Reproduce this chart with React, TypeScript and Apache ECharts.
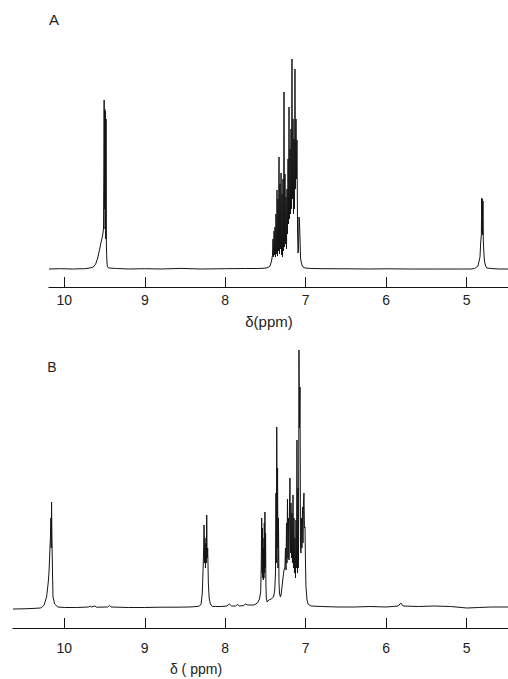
import React, { useEffect, useRef } from "react";
import * as echarts from "echarts";

// Tick positions (ppm) shared by both panels
const tickValues = [10, 9, 8, 7, 6, 5];
const panelLabels = ["A", "B"];
const axisTitles = ["δ(ppm)", "δ ( ppm)"];

// Spectrum A: [ppm, intensity] (descending ppm)
const spectrumA: number[][] = [
  [10.19, 0], [10.05, 0.3], [9.9, 0], [9.75, 0.3], [9.68, 1], [9.64, 2], [9.61, 5],
  [9.585, 11], [9.56, 20], [9.54, 28], [9.525, 33], [9.513, 40], [9.508, 100],
  [9.505, 169], [9.501, 60], [9.497, 160], [9.493, 40], [9.489, 158], [9.485, 30],
  [9.481, 150], [9.477, 25], [9.472, 10], [9.466, 3], [9.45, 1], [9.35, 0.5],
  [9.2, 0], [9.0, 0.3], [8.8, 0], [8.55, 0.6], [8.3, 0], [8.0, 0.3], [7.75, 0.5],
  [7.6, 0.5], [7.506, 0.8], [7.469, 1.5], [7.444, 3], [7.425, 8], [7.413, 14],
  [7.407, 30], [7.401, 12], [7.394, 38], [7.388, 14], [7.382, 42], [7.376, 12],
  [7.37, 55], [7.363, 15], [7.357, 79], [7.351, 13], [7.345, 70], [7.339, 18],
  [7.332, 112], [7.326, 15], [7.32, 85], [7.314, 20], [7.307, 96], [7.301, 14],
  [7.295, 75], [7.289, 12], [7.283, 90], [7.276, 18], [7.27, 177], [7.264, 22],
  [7.258, 95], [7.252, 25], [7.245, 72], [7.239, 20], [7.233, 80], [7.227, 35],
  [7.22, 110], [7.214, 45], [7.208, 162], [7.202, 50], [7.196, 120], [7.189, 55],
  [7.183, 140], [7.177, 60], [7.171, 210], [7.165, 70], [7.158, 150], [7.152, 55],
  [7.146, 130], [7.14, 60], [7.134, 200], [7.127, 80], [7.121, 150], [7.115, 90],
  [7.109, 129], [7.102, 40], [7.096, 16], [7.09, 20], [7.084, 52], [7.078, 48],
  [7.071, 30], [7.065, 12], [7.059, 8], [7.047, 4], [7.034, 2], [7.009, 1],
  [6.95, 0.6], [6.8, 0.3], [6.5, 0.2], [6.2, 0], [6.0, 0.2], [5.7, 0], [5.4, 0],
  [5.1, 0], [4.95, 0], [4.9, 0.5], [4.86, 3], [4.835, 12], [4.825, 28], [4.818, 34],
  [4.814, 71], [4.81, 36], [4.806, 70], [4.802, 34], [4.798, 68], [4.794, 30],
  [4.788, 18], [4.78, 8], [4.765, 3], [4.75, 1], [4.7, 0.5], [4.6, 0], [4.487, 0],
];

// Spectrum B: [ppm, intensity] (descending ppm)
const spectrumB: number[][] = [
  [10.637, -1], [10.5, -0.8], [10.4, -0.5], [10.3, 0], [10.28, 0.5], [10.25, 3],
  [10.22, 11], [10.2, 25], [10.19, 35], [10.18, 55], [10.172, 71], [10.166, 90],
  [10.162, 60], [10.158, 106], [10.154, 75], [10.15, 55], [10.145, 30], [10.14, 11],
  [10.12, 4], [10.08, 1], [10.0, 0.5], [9.85, 0.5], [9.7, 1], [9.68, 2], [9.66, 1],
  [9.62, 2], [9.6, 0.8], [9.46, 1], [9.44, 2.5], [9.42, 1], [9.2, 0.5], [9.0, 0.5],
  [8.8, 0.8], [8.6, 0.8], [8.45, 1], [8.35, 1.5], [8.32, 2], [8.3, 4], [8.285, 15],
  [8.275, 40], [8.268, 60], [8.263, 83], [8.258, 45], [8.252, 70], [8.246, 40],
  [8.24, 65], [8.235, 45], [8.23, 93], [8.225, 50], [8.218, 60], [8.21, 25],
  [8.2, 10], [8.185, 4], [8.16, 1.5], [8.12, 1.5], [8.05, 1.5], [7.98, 2], [7.95, 4],
  [7.92, 2], [7.87, 2], [7.85, 3.5], [7.82, 2], [7.77, 2.5], [7.75, 4], [7.72, 3],
  [7.68, 3], [7.643, 3], [7.6, 5], [7.575, 9], [7.56, 16], [7.553, 40], [7.547, 90],
  [7.543, 35], [7.539, 80], [7.535, 30], [7.531, 70], [7.527, 28], [7.523, 60],
  [7.519, 30], [7.515, 85], [7.511, 35], [7.507, 96], [7.503, 40], [7.499, 75],
  [7.495, 25], [7.49, 10], [7.48, 6], [7.46, 8], [7.43, 9], [7.4, 11], [7.385, 18],
  [7.376, 35], [7.37, 115], [7.365, 45], [7.36, 181], [7.355, 60], [7.35, 140],
  [7.345, 40], [7.339, 90], [7.332, 25], [7.326, 15], [7.315, 11], [7.305, 14],
  [7.295, 21], [7.283, 30], [7.27, 38], [7.258, 41], [7.252, 60], [7.245, 38],
  [7.239, 85], [7.233, 45], [7.227, 109], [7.22, 50], [7.214, 90], [7.208, 48],
  [7.202, 100], [7.196, 130], [7.189, 55], [7.183, 105], [7.177, 50], [7.171, 95],
  [7.165, 45], [7.158, 113], [7.152, 40], [7.146, 90], [7.14, 35], [7.134, 70],
  [7.127, 30], [7.121, 88], [7.115, 40], [7.109, 168], [7.102, 35], [7.096, 120],
  [7.09, 40], [7.084, 258], [7.078, 180], [7.071, 221], [7.065, 60], [7.059, 55],
  [7.053, 90], [7.047, 60], [7.04, 101], [7.034, 65], [7.028, 105], [7.022, 115],
  [7.016, 80], [7.009, 81], [7.003, 45], [6.997, 21], [6.984, 8], [6.972, 4],
  [6.935, 2], [6.8, 1.5], [6.6, 1], [6.4, 1], [6.2, 1.5], [6.0, 1], [5.85, 2],
  [5.82, 5], [5.79, 2], [5.6, 1.5], [5.4, 2], [5.2, 1.5], [5.0, 0], [4.85, 0.5],
  [4.7, 1], [4.487, 1],
];

const FONT = "'Liberation Sans', 'DejaVu Sans', sans-serif";
const INK = "#151515";

function makeXAxis(gridIndex: number, min: number, max: number, margin: number) {
  return {
    gridIndex,
    type: "value",
    inverse: true,
    min,
    max,
    axisLine: { show: true, onZero: false, lineStyle: { color: INK, width: 1.2 } },
    axisTick: {
      show: true,
      inside: true,
      length: 10,
      customValues: tickValues,
      lineStyle: { color: INK, width: 1 },
    },
    axisLabel: {
      show: true,
      customValues: tickValues,
      margin,
      fontSize: 14,
      color: "#222",
      fontFamily: FONT,
    },
    splitLine: { show: false },
  };
}

export default function App() {
  const ref = useRef<HTMLDivElement>(null);
  useEffect(() => {
    if (!ref.current) return;
    const chart = echarts.init(ref.current, null, { renderer: "svg" });
    chart.setOption({
      animation: false,
      backgroundColor: "#ffffff",
      grid: [
        { left: 49, right: 0, top: 40, height: 247, containLabel: false, outerBoundsMode: "none" },
        { left: 13, right: 0, top: 340, height: 288, containLabel: false, outerBoundsMode: "none" },
      ],
      xAxis: [makeXAxis(0, 4.487, 10.19, 6), makeXAxis(1, 4.487, 10.637, 13)],
      yAxis: [
        { gridIndex: 0, type: "value", min: -18, max: 229, show: false },
        { gridIndex: 1, type: "value", min: -20, max: 268, show: false },
      ],
      series: [
        {
          type: "line",
          xAxisIndex: 0,
          yAxisIndex: 0,
          data: spectrumA,
          showSymbol: false,
          symbol: "none",
          clip: true,
          lineStyle: { color: INK, width: 1 },
        },
        {
          type: "line",
          xAxisIndex: 1,
          yAxisIndex: 1,
          data: spectrumB,
          showSymbol: false,
          symbol: "none",
          clip: true,
          lineStyle: { color: INK, width: 1 },
        },
      ],
      graphic: [
        {
          type: "text",
          x: 54,
          y: 19,
          style: { text: panelLabels[0], font: `15px ${FONT}`, fill: "#222", align: "center", verticalAlign: "middle" },
        },
        {
          type: "text",
          x: 52,
          y: 367,
          style: { text: panelLabels[1], font: `14px ${FONT}`, fill: "#222", align: "center", verticalAlign: "middle" },
        },
        {
          type: "text",
          x: 269,
          y: 321,
          style: { text: axisTitles[0], font: `15px ${FONT}`, fill: "#222", align: "center", verticalAlign: "middle" },
        },
        {
          type: "text",
          x: 196,
          y: 669,
          style: { text: axisTitles[1], font: `14px ${FONT}`, fill: "#222", align: "center", verticalAlign: "middle" },
        },
      ],
    });
    return () => chart.dispose();
  }, []);
  return (
    <div
      ref={ref}
      style={{ position: "absolute", left: 0, top: 0, width: 508, height: 679 }}
    />
  );
}
